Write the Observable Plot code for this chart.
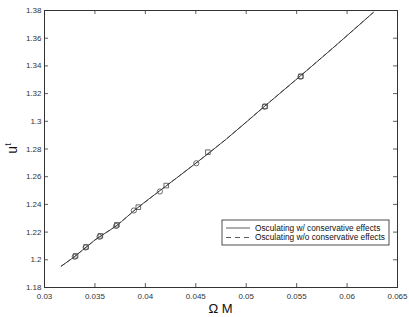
<!DOCTYPE html>
<html>
<head>
<meta charset="utf-8">
<script src="https://cdn.jsdelivr.net/npm/d3@7"></script>
<script src="https://cdn.jsdelivr.net/npm/@observablehq/plot@0.6"></script>
<style>
  html, body { margin: 0; padding: 0; background: #fff; }
  #chart svg { display: block; }
</style>
</head>
<body>
<div id="chart"></div>
<script>
// Curve (solid: with conservative effects; dashed: without)
const curveX = [0.03166, 0.0330, 0.0350, 0.0372, 0.0390, 0.0420, 0.0450, 0.0480, 0.0518, 0.0553, 0.0590, 0.0626];
const curveY = [1.1954, 1.2024, 1.2143, 1.2250, 1.2362, 1.2530, 1.2697, 1.2870, 1.3107, 1.3323, 1.3555, 1.3786];
const dashY  = [1.1954, 1.2024, 1.2143, 1.2250, 1.2362, 1.2530, 1.2697, 1.2870, 1.3107, 1.3323, 1.3555, 1.3786];

// Markers
const circleX = [0.03300, 0.03408, 0.03546, 0.03710, 0.03886, 0.04144, 0.04505, 0.05183, 0.05538];
const circleY = [1.2022, 1.2089, 1.2166, 1.2244, 1.2356, 1.2493, 1.2697, 1.3105, 1.3322];
const squareX = [0.03308, 0.03412, 0.03554, 0.03718, 0.03930, 0.04207, 0.04620, 0.05187, 0.05542];
const squareY = [1.2028, 1.2093, 1.2173, 1.2253, 1.2380, 1.2536, 1.2777, 1.3108, 1.3325];

// Ticks
const xTicks = [0.03, 0.035, 0.04, 0.045, 0.05, 0.055, 0.06, 0.065];
const yTicks = [1.18, 1.2, 1.22, 1.24, 1.26, 1.28, 1.3, 1.32, 1.34, 1.36, 1.38];

const legendLabels = ["Osculating w/ conservative effects", "Osculating w/o conservative effects"];

const solid = curveX.map((x, i) => ({x, y: curveY[i]}));
const dashed = curveX.map((x, i) => ({x, y: dashY[i]}));
const circles = circleX.map((x, i) => ({x, y: circleY[i]}));
const squares = squareX.map((x, i) => ({x, y: squareY[i]}));

const W = 409, H = 317;
const mL = 44, mR = 12, mT = 10, mB = 30;
const pw = W - mL - mR, ph = H - mT - mB;
const tl = 4;
const ink = "#333";
const fontFam = "'Liberation Sans', Arial, Helvetica, sans-serif";

const plot = Plot.plot({
  width: W, height: H,
  marginLeft: mL, marginRight: mR, marginTop: mT, marginBottom: mB,
  style: {fontFamily: fontFam, fontSize: "8px", color: ink, background: "#fff"},
  x: {domain: [0.03, 0.065], ticks: xTicks, label: null},
  y: {domain: [1.18, 1.38], ticks: yTicks, label: null},
  marks: [
    Plot.line(dashed, {x: "x", y: "y", stroke: ink, strokeWidth: 0.8, strokeDasharray: "4,3"}),
    Plot.line(solid, {x: "x", y: "y", stroke: ink, strokeWidth: 0.9, curve: "monotone-x"}),
    Plot.dot(circles, {x: "x", y: "y", r: 2.6, stroke: "#444", strokeWidth: 0.8, fill: "none", symbol: "circle"}),
    Plot.dot(squares, {x: "x", y: "y", r: 2.6, stroke: "#444", strokeWidth: 0.8, fill: "none", symbol: "square"}),
    // inward ticks on all four sides
    Plot.tickX(xTicks, {x: d => d, stroke: ink, strokeWidth: 0.8, insetTop: ph - tl}),
    Plot.tickX(xTicks, {x: d => d, stroke: ink, strokeWidth: 0.8, insetBottom: ph - tl}),
    Plot.tickY(yTicks, {y: d => d, stroke: ink, strokeWidth: 0.8, insetRight: pw - tl}),
    Plot.tickY(yTicks, {y: d => d, stroke: ink, strokeWidth: 0.8, insetLeft: pw - tl}),
    Plot.axisX(xTicks, {anchor: "bottom", tickSize: 0, tickPadding: 6, tickFormat: d => String(+d.toFixed(3)), label: null, fill: ink}),
    Plot.axisY(yTicks, {anchor: "left", tickSize: 0, tickPadding: 3, tickFormat: d => String(+d.toFixed(2)), label: null, fill: ink}),
    Plot.frame({stroke: ink, strokeWidth: 1})
  ]
});

const svg = d3.select(plot);
// axis labels
svg.append("text")
  .attr("x", mL + pw / 2).attr("y", H - 4)
  .attr("text-anchor", "middle")
  .attr("font-family", fontFam).attr("font-size", 13).attr("fill", "#111")
  .text("Ω M");
const yl = svg.append("text")
  .attr("transform", `translate(17,${mT + ph / 2}) rotate(-90)`)
  .attr("text-anchor", "middle")
  .attr("font-family", fontFam).attr("font-size", 14).attr("fill", "#111");
yl.append("tspan").text("u");
yl.append("tspan").attr("font-size", 9).attr("dy", -6).text("t");

// legend
const lx = 222, ly = 220, lw = 167, lh = 25;
const lg = svg.append("g").attr("text-anchor", "start");
lg.append("rect").attr("x", lx).attr("y", ly).attr("width", lw).attr("height", lh)
  .attr("fill", "#fff").attr("stroke", "#222").attr("stroke-width", 0.8);
legendLabels.forEach((t, i) => {
  const yy = ly + 8 + i * 9.5;
  lg.append("line").attr("x1", lx + 4).attr("x2", lx + 28).attr("y1", yy).attr("y2", yy)
    .attr("stroke", ink).attr("stroke-width", 0.8)
    .attr("stroke-dasharray", i === 1 ? "5,4" : null);
  lg.append("text").attr("x", lx + 33).attr("y", yy + 2.8)
    .attr("text-anchor", "start")
    .attr("font-family", fontFam).attr("font-size", 8.3).attr("fill", "#111")
    .text(t);
});

document.getElementById("chart").appendChild(plot);
</script>
</body>
</html>
